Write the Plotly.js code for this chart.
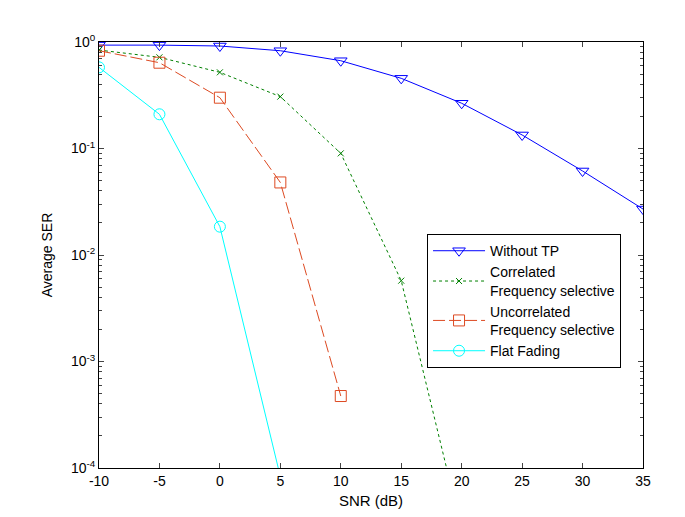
<!DOCTYPE html>
<html>
<head>
<meta charset="utf-8">
<script src="https://cdn.plot.ly/plotly-3.0.1.min.js"></script>
<style>html,body{margin:0;padding:0;background:#fff;}#chart{width:685px;height:517px;}</style>
</head>
<body>
<div id="chart"></div>
<script>
const snr = [-10, -5, 0, 5, 10, 15, 20, 25, 30, 35];
const withoutTP = [0.935, 0.935, 0.917, 0.828, 0.667, 0.456, 0.266, 0.134, 0.0615, 0.027];
const snrCorr = [-10, -5, 0, 5, 10, 15, 20];
const correlated = [0.84, 0.718, 0.519, 0.307, 0.090, 0.00574, 0.000026];
const snrUncorr = [-10, -5, 0, 5, 10];
const uncorrelated = [0.828, 0.639, 0.30, 0.048, 0.000474];
const snrFlat = [-10, -5, 0, 5];
const flatFading = [0.578, 0.2095, 0.01845, 0.000083];
const names = ['Without TP', 'Correlated<br>Frequency selective', 'Uncorrelated<br>Frequency selective', 'Flat Fading'];
const yTickVals = [1e-4, 1e-3, 1e-2, 1e-1, 1];
const yTickText = ['10<sup>-4</sup>', '10<sup>-3</sup>', '10<sup>-2</sup>', '10<sup>-1</sup>', '10<sup>0</sup>'];
const xTickVals = [-10, -5, 0, 5, 10, 15, 20, 25, 30, 35];
const xTickText = ['-10', '-5', '0', '5', '10', '15', '20', '25', '30', '35'];

const minorVals = [];
for (let e = -4; e < 0; e++) for (let m = 2; m <= 9; m++) minorVals.push(m * Math.pow(10, e));

const font = 'Liberation Sans, Arial, sans-serif';
const traces = [
  {x: snr, y: withoutTP, name: names[0], mode: 'lines+markers',
   line: {color: '#0000ff', width: 1},
   marker: {symbol: 'triangle-down-open', size: 11, color: '#0000ff', line: {width: 1}}},
  {x: snrCorr, y: correlated, name: names[1], mode: 'lines+markers',
   line: {color: '#008000', width: 1, dash: '3px,3px'},
   marker: {symbol: 'x-thin-open', size: 6, color: '#008000', line: {width: 1, color: '#008000'}}},
  {x: snrUncorr, y: uncorrelated, name: names[2], mode: 'lines+markers',
   line: {color: '#dd4a22', width: 1, dash: '12px,4px'},
   marker: {symbol: 'square-open', size: 11, color: '#dd4a22', line: {width: 1}}},
  {x: snrFlat, y: flatFading, name: names[3], mode: 'lines+markers',
   line: {color: '#00ffff', width: 1},
   marker: {symbol: 'circle-open', size: 11, color: '#00ffff', line: {width: 1}}}
];

const layout = {
  width: 685, height: 517,
  margin: {l: 99, r: 42, t: 42, b: 49},
  paper_bgcolor: '#fff', plot_bgcolor: '#fff',
  font: {family: font, size: 14, color: '#000'},
  showlegend: true,
  legend: {x: 0.603, y: 0.549, xanchor: 'left', yanchor: 'top',
    bgcolor: '#fff', bordercolor: '#000', borderwidth: 1,
    font: {family: font, size: 14, color: '#000'}, itemwidth: 52, tracegroupgap: 0},
  xaxis: {range: [-10, 35], tickvals: xTickVals, ticktext: xTickText, ticks: 'inside', ticklen: 5,
    showline: true, linecolor: '#000', linewidth: 1, mirror: 'ticks', showgrid: false, zeroline: false,
    tickfont: {family: font, size: 14, color: '#000'},
    title: {text: 'SNR (dB)', font: {family: font, size: 15, color: '#000'}, standoff: 7}},
  yaxis: {type: 'log', range: [-4, 0], tickvals: yTickVals, ticktext: yTickText, ticks: 'inside', ticklen: 5,
    showline: true, linecolor: '#000', linewidth: 1, mirror: 'ticks', showgrid: false, zeroline: false,
    tickfont: {family: font, size: 14, color: '#000'},
    minor: {tickvals: minorVals, ticks: 'inside', ticklen: 3, showgrid: false},
    title: {text: 'Average SER', font: {family: font, size: 14, color: '#000'}, standoff: 15}}
};

Plotly.newPlot('chart', traces, layout, {displayModeBar: false, staticPlot: true});
</script>
</body>
</html>
